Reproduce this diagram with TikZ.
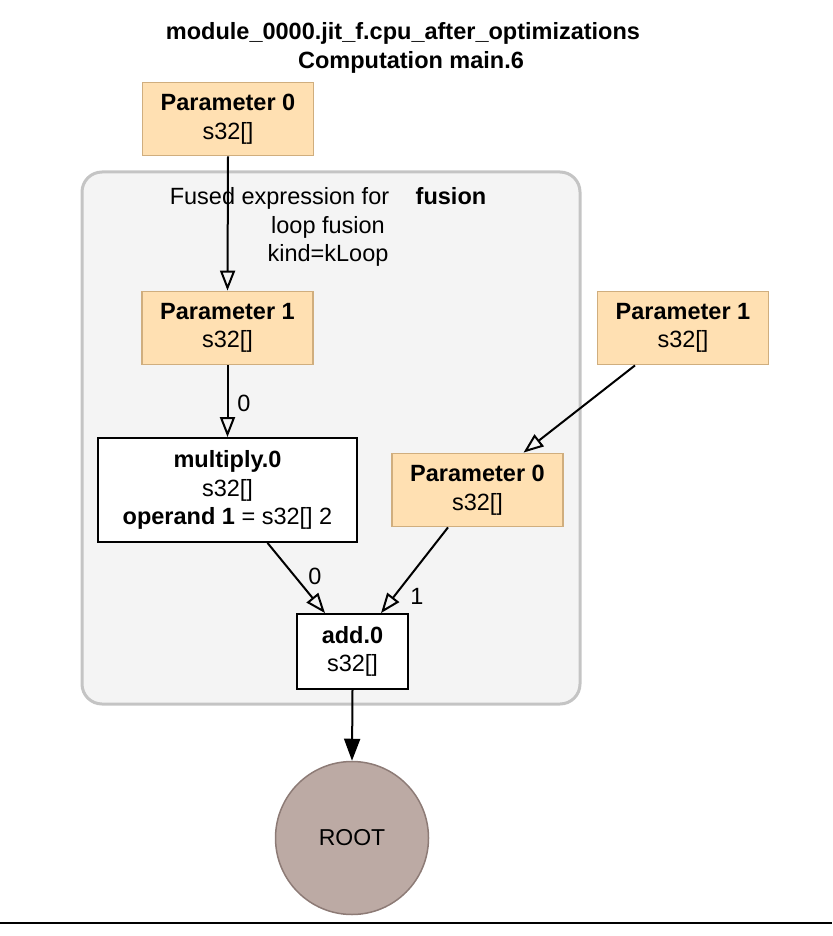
\documentclass[tikz,border=0pt]{standalone}
\usepackage{fontspec}
\setmainfont{Liberation Sans}
\usetikzlibrary{arrows.meta,calc}
\definecolor{paramfill}{HTML}{FFE0B2}
\definecolor{paramdraw}{HTML}{D0AE7E}
\definecolor{clusterfill}{HTML}{F4F4F4}
\definecolor{clusterdraw}{HTML}{C4C4C4}
\definecolor{rootfill}{HTML}{BCAAA4}
\definecolor{rootdraw}{HTML}{8D7B76}
\begin{document}
\begin{tikzpicture}[x=1pt,y=-1pt,
  every node/.style={font=\fontsize{23.5}{28.5}\selectfont, inner sep=0pt, align=center},
  parambox/.style={draw=paramdraw, fill=paramfill, line width=1.8pt, minimum width=171pt, minimum height=73pt},
  instbox/.style={draw=black, fill=white, line width=1.8pt},
  clusterbox/.style={draw=clusterdraw, fill=clusterfill, line width=3pt, rounded corners=20pt},
  openarrow/.style={line width=2pt, -{Triangle[open, length=20pt, width=15pt, line width=2pt]}},
  fullarrow/.style={line width=2pt, -{Triangle[length=22pt, width=16pt]}},
  rootnode/.style={circle, draw=rootdraw, fill=rootfill, line width=1.5pt, minimum size=153pt, font=\fontsize{23}{26}\selectfont}
]
\useasboundingbox (0,0) rectangle (832,936);
\node[font=\bfseries\fontsize{23.5}{29}\selectfont] (title1) at (403,33) {module\_0000.jit\_f.cpu\_after\_optimizations};
\node[font=\bfseries\fontsize{23.5}{29}\selectfont] (title2) at (411,62) {Computation main.6};

\node[clusterbox, minimum width=498pt, minimum height=532pt] (cluster) at (331,438) {};
\node (clabel) at (328,227) {Fused expression for\hspace{20pt} \textbf{fusion}\\loop fusion\\kind=kLoop};

\node[parambox] (p0top) at (228,119) {\textbf{Parameter 0}\\s32[]};
\node[parambox] (p1in) at (227.5,328) {\textbf{Parameter 1}\\s32[]};
\node[parambox] (p1out) at (683,328) {\textbf{Parameter 1}\\s32[]};
\node[parambox] (p0in) at (477.5,490) {\textbf{Parameter 0}\\s32[]};
\node[instbox, minimum width=259pt, minimum height=104pt] (multiply) at (227.5,490) {\textbf{multiply.0}\\s32[]\\\textbf{operand 1} = s32[] 2};
\node[instbox, minimum width=111pt, minimum height=75pt] (add) at (352.5,651.5) {\textbf{add.0}\\s32[]};
\node[rootnode] (root) at (352,838) {ROOT};

\draw[openarrow] (p0top.south) -- (p1in.north);
\draw[openarrow] (p1in.south) -- (multiply.north);
\draw[openarrow] ($(p1out.south)+(-48,0)$) -- ($(p0in.north)+(46,0)$);
\draw[openarrow] ($(multiply.south)+(40,0)$) -- ($(add.north)+(-27.5,0)$);
\draw[openarrow] ($(p0in.south)+(-29.5,0)$) -- ($(add.north)+(28.5,0)$);
\draw[fullarrow] (add.south) -- (root.north);

\node (lab0a) at (244,403) {0};
\node (lab0b) at (315,576) {0};
\node (lab1) at (417,596) {1};

\draw[line width=1.5pt] (0,923) -- (832,923);
\end{tikzpicture}
\end{document}
